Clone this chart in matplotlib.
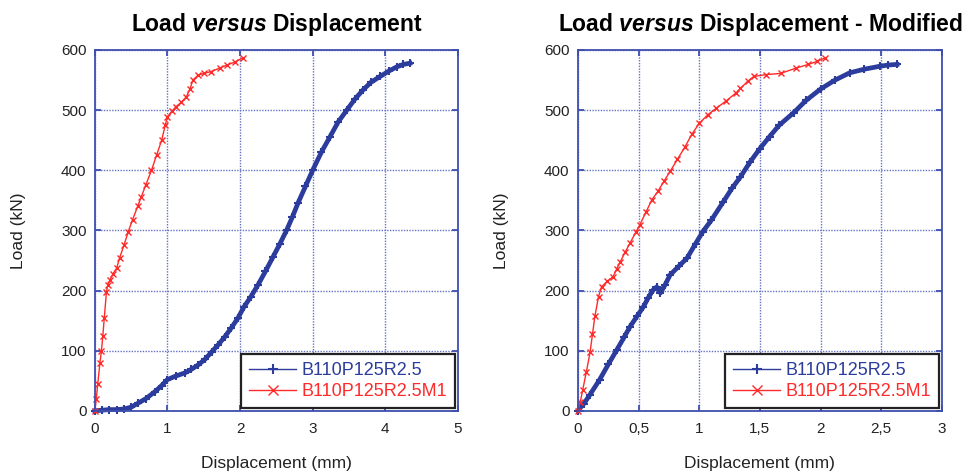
import matplotlib
matplotlib.use("Agg")
import matplotlib.pyplot as plt

plt.rcParams['font.family'] = ['Liberation Sans', 'DejaVu Sans']
plt.rcParams['mathtext.fontset'] = 'custom'
plt.rcParams['mathtext.it'] = 'Liberation Sans:italic:bold'
plt.rcParams['mathtext.rm'] = 'Liberation Sans:bold'

# ---- data ----
# left panel
left_b_x = [0, 0.1, 0.2, 0.3, 0.4, 0.5, 0.6, 0.7, 0.83, 0.92, 1.0, 1.12, 1.24, 1.33,
            1.42, 1.52, 1.61, 1.70, 1.79, 1.88, 1.97, 2.05, 2.15, 2.25, 2.35, 2.45,
            2.55, 2.64, 2.72, 2.80, 2.90, 3.0, 3.12, 3.24, 3.35, 3.47, 3.58, 3.69,
            3.80, 3.93, 4.05, 4.16, 4.25, 4.34]
left_b_y = [0, 1, 2, 2, 3, 6, 13, 20, 32, 42, 52, 58, 63, 69,
            76, 86, 98, 110, 123, 138, 154, 172, 190, 210, 232, 255,
            278, 300, 322, 346, 373, 400, 430, 456, 480, 500, 518, 533,
            546, 556, 565, 572, 576, 578]

left_r_x = [0, 0.02, 0.04, 0.07, 0.09, 0.11, 0.13, 0.16, 0.18, 0.21, 0.25, 0.30,
            0.34, 0.40, 0.46, 0.52, 0.59, 0.64, 0.70, 0.78, 0.85, 0.92, 0.97, 1.0,
            1.06, 1.12, 1.19, 1.26, 1.31, 1.35, 1.42, 1.50, 1.60, 1.72, 1.82, 1.93, 2.04]
left_r_y = [0, 20, 45, 80, 99, 125, 155, 198, 210, 218, 228, 237,
            254, 275, 298, 318, 340, 356, 375, 400, 425, 450, 475, 489,
            498, 506, 513, 522, 535, 550, 558, 561, 564, 570, 575, 580, 587]

# right panel (modified)
right_b_x = [0, 0.05, 0.1, 0.18, 0.25, 0.32, 0.38, 0.43, 0.49, 0.54, 0.58, 0.62,
             0.65, 0.68, 0.72, 0.76, 0.83, 0.90, 0.97, 1.03, 1.10, 1.20, 1.27, 1.34,
             1.42, 1.50, 1.58, 1.66, 1.78, 1.88, 2.0, 2.12, 2.24, 2.36, 2.49, 2.56, 2.63]
right_b_y = [0, 12, 27, 52, 77, 101, 122, 140, 158, 173, 188, 201,
             206, 196, 210, 226, 240, 254, 278, 298, 317, 348, 370, 389,
             414, 436, 456, 475, 496, 516, 535, 550, 562, 568, 573, 575, 576]

right_r_x = [0, 0.02, 0.04, 0.07, 0.10, 0.12, 0.14, 0.17, 0.195, 0.24, 0.29, 0.32,
             0.35, 0.39, 0.43, 0.48, 0.51, 0.56, 0.61, 0.66, 0.71, 0.76, 0.82, 0.88,
             0.94, 1.0, 1.07, 1.14, 1.22, 1.30, 1.34, 1.40, 1.45, 1.55, 1.67, 1.80,
             1.90, 1.97, 2.04]
right_r_y = [0, 15, 35, 65, 97, 127, 157, 190, 206, 215, 223, 236,
             248, 264, 279, 298, 309, 330, 351, 365, 382, 398, 418, 438,
             460, 478, 492, 503, 515, 528, 536, 548, 556, 559, 561, 570,
             576, 581, 587]

labels = ['B110P125R2.5', 'B110P125R2.5M1']
left_xticks = [0, 1, 2, 3, 4, 5]
right_xticks = [0, 0.5, 1, 1.5, 2, 2.5, 3]
right_xticklabels = ['0', '0,5', '1', '1,5', '2', '2,5', '3']
yticks = [0, 100, 200, 300, 400, 500, 600]

blue = '#2b3c9c'
red = '#ff2a2a'
frame = '#3f4fae'

fig = plt.figure(figsize=(9.68, 4.76), dpi=100)
ax1 = fig.add_axes([0.098, 0.137, 0.375, 0.758])
ax2 = fig.add_axes([0.597, 0.137, 0.376, 0.758])


def style(ax, xmax, xticks, title):
    ax.set_xlim(0, xmax)
    ax.set_ylim(0, 600)
    ax.set_xticks(xticks)
    ax.set_yticks(yticks)
    ax.grid(True, color='#6472c4', linestyle=(0, (1, 1)), linewidth=1.0)
    for s in ax.spines.values():
        s.set_color(frame)
        s.set_linewidth(1.3)
    ax.tick_params(axis='x', direction='in', length=4, color=frame, width=1.3,
                   labelsize=11, labelcolor='#222222', pad=8, top=True)
    ax.tick_params(axis='y', direction='in', length=4, color=frame, width=1.3,
                   labelsize=11, labelcolor='#222222', pad=6, right=True)
    ax.set_xlabel('Displacement (mm)', fontsize=12.5, color='#222222')
    ax.set_ylabel('Load (kN)', fontsize=12.5, color='#222222')
    ax.xaxis.set_label_coords(0.5, -0.125)
    ax.yaxis.set_label_coords(-0.19, 0.5)
    ax.set_title(title, fontsize=16.5, fontweight='bold', pad=14)


def draw(ax, bx, by, rx, ry):
    ax.plot(bx, by, color=blue, linewidth=3.4, marker='+', markersize=6,
            markeredgewidth=1.5, label=labels[0], clip_on=False)
    ax.plot(rx, ry, color=red, linewidth=1.0, marker='x', markersize=5,
            markeredgewidth=1.0, label=labels[1], clip_on=False)
    leg = ax.legend(loc='lower right', fontsize=13, fancybox=False, framealpha=1,
                    borderaxespad=0.15, handlelength=2.6, handletextpad=0.3,
                    borderpad=0.45, labelspacing=0.2)
    leg.get_frame().set_edgecolor('#222222')
    leg.get_frame().set_linewidth(1.6)
    for t, c in zip(leg.get_texts(), [blue, red]):
        t.set_color(c)
    for h in leg.legend_handles:
        h.set_linewidth(1.0)
        h.set_markersize(7)


draw(ax1, left_b_x, left_b_y, left_r_x, left_r_y)
style(ax1, 5, left_xticks, r'Load $\mathit{versus}$ Displacement')

draw(ax2, right_b_x, right_b_y, right_r_x, right_r_y)
style(ax2, 3, right_xticks, r'Load $\mathit{versus}$ Displacement - Modified')
ax2.set_xticklabels(right_xticklabels)

fig.savefig('out.png', dpi=100)
